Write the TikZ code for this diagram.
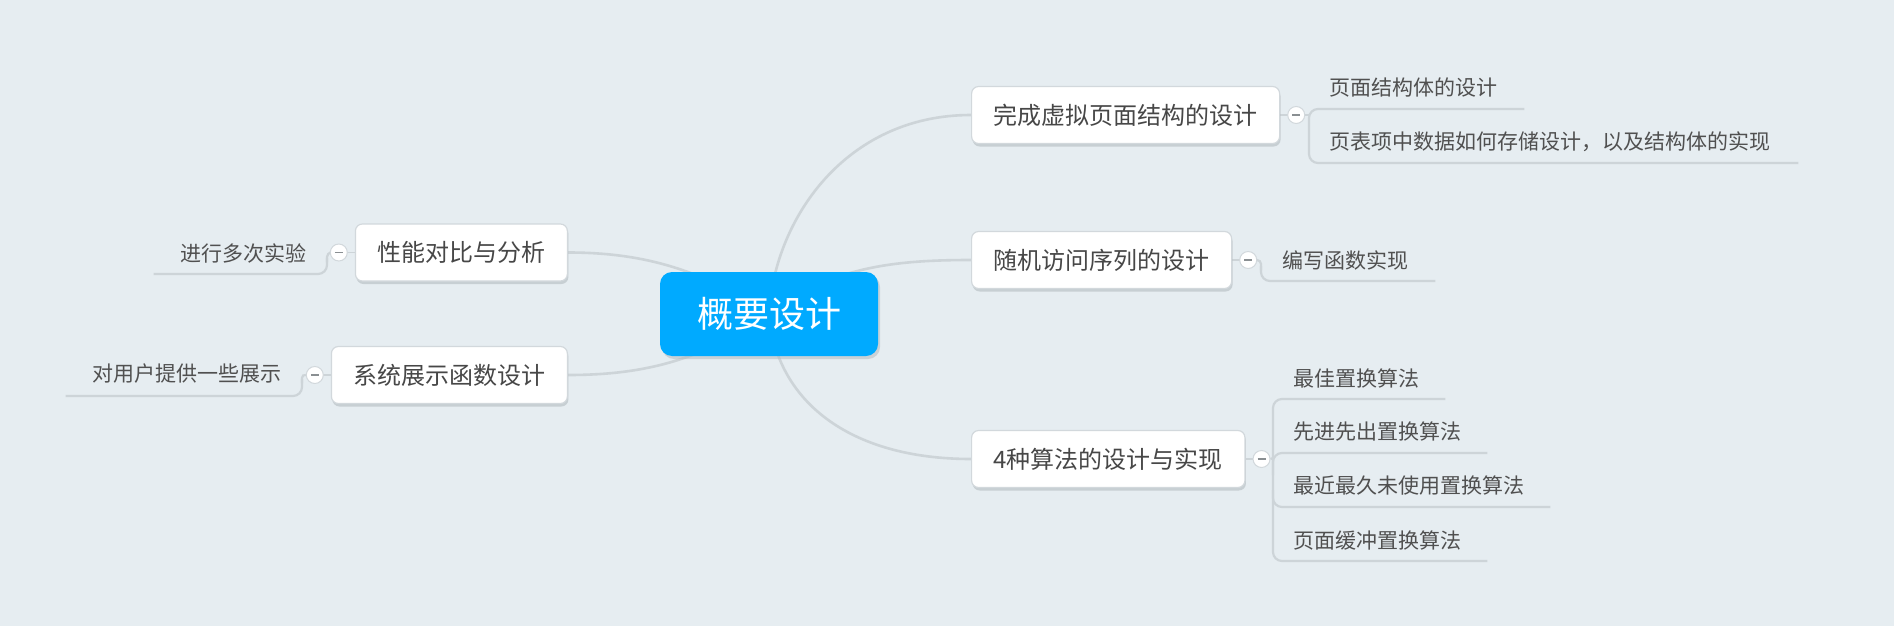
\documentclass[tikz,border=0pt]{standalone}
\usepackage{fontspec}
\setmainfont{Noto Sans CJK SC}
\usetikzlibrary{shadows,calc}
\definecolor{bgcol}{HTML}{E6EDF1}
\definecolor{rootblue}{HTML}{00AAFF}
\definecolor{linegray}{HTML}{CDD4D8}
\definecolor{boxborder}{HTML}{D2D8DC}
\definecolor{txt}{HTML}{474747}
\definecolor{leaftxt}{HTML}{505050}
\definecolor{shadowgray}{HTML}{B3BBC0}
\definecolor{minusgray}{HTML}{8A8F92}
\pgfdeclarelayer{bglayer}
\pgfdeclarelayer{background}
\pgfsetlayers{bglayer,background,main}
\begin{document}
\begin{tikzpicture}[x=1pt,y=-1pt,
 rootbox/.style={fill=rootblue, rounded corners=12pt, text=white,
   font=\fontsize{36}{40}\selectfont, minimum width=218pt, minimum height=84pt, inner sep=0pt,
   general shadow={fill=shadowgray, opacity=0.55, shadow xshift=2pt, shadow yshift=-3pt}},
 mainbox/.style={fill=white, draw=boxborder, line width=1.2pt, rounded corners=7pt, text=txt,
   font=\fontsize{24}{28}\selectfont, minimum height=57pt, inner xsep=22pt,
   general shadow={fill=shadowgray, opacity=0.6, shadow xshift=1pt, shadow yshift=-3pt}},
 leaf/.style={inner sep=0pt, text=leaftxt, font=\fontsize{21}{24}\selectfont},
 toggle/.style={circle, fill=white, draw=boxborder, line width=1pt, minimum size=17pt, inner sep=0pt,
   path picture={\draw[line width=1.8pt, minusgray] ([xshift=-4pt]path picture bounding box.center) -- ([xshift=4pt]path picture bounding box.center);}},
 trunk/.style={draw=linegray, line width=2.6pt},
 twig/.style={draw=linegray, line width=2.2pt, rounded corners=9pt},
 stub/.style={draw=linegray, line width=2.2pt, rounded corners=4pt},
]
\begin{pgfonlayer}{bglayer}
\fill[bgcol] (0,0) rectangle (1894,626);
\end{pgfonlayer}
\useasboundingbox (0,0) rectangle (1894,626);

% main nodes
\node[rootbox] (root) at (769,314) {概要设计};
\node[mainbox, anchor=west] (n1) at (971,115) {完成虚拟页面结构的设计};
\node[mainbox, anchor=west] (n2) at (971,260) {随机访问序列的设计};
\node[mainbox, anchor=west] (n3) at (971,459) {4种算法的设计与实现};
\node[mainbox, anchor=east] (n4) at (568,252.5) {性能对比与分析};
\node[mainbox, anchor=east] (n5) at (568,375) {系统展示函数设计};

% leaves
\node[leaf, anchor=west] (l1a) at (1329,88) {页面结构体的设计};
\node[leaf, anchor=west] (l1b) at (1329,142) {页表项中数据如何存储设计，以及结构体的实现};
\node[leaf, anchor=west] (l2) at (1282,260) {编写函数实现};
\node[leaf, anchor=west] (l3a) at (1293,378) {最佳置换算法};
\node[leaf, anchor=west] (l3b) at (1293,432) {先进先出置换算法};
\node[leaf, anchor=west] (l3c) at (1293,486) {最近最久未使用置换算法};
\node[leaf, anchor=west] (l3d) at (1293,540) {页面缓冲置换算法};
\node[leaf, anchor=east] (l4) at (307,253) {进行多次实验};
\node[leaf, anchor=east] (l5) at (282,374) {对用户提供一些展示};

% connectors
\begin{pgfonlayer}{background}
\draw[trunk] (root.center) .. controls (774,220) and (845,115) .. (n1.west);
\draw[trunk] (root.center) .. controls (830,268) and (890,260) .. (n2.west);
\draw[trunk] (root.center) .. controls (776,400) and (848,459) .. (n3.west);
\draw[trunk] (root.center) .. controls (700,268) and (640,252.5) .. (n4.east);
\draw[trunk] (root.center) .. controls (700,362) and (640,375) .. (n5.east);

\draw[trunk, line width=1.2pt] (n1.east) -- ++(10,0);
\draw[trunk, line width=1.2pt] (n2.east) -- ++(10,0);
\draw[trunk, line width=1.2pt] (n3.east) -- ++(10,0);
\draw[trunk, line width=1.2pt] (n4.west) -- ++(-10,0);
\draw[trunk, line width=1.2pt] (n5.west) -- ++(-10,0);

% group 1
\coordinate (b1) at (1309,115);
\draw[twig] ($(l1a.east)+(27,21)$) -| (1309,136) |- ($(l1b.east)+(28,21)$);
% group 2
\coordinate (b2) at (1261,260);
% group 3
\coordinate (b3) at (1273,458);
\draw[twig] ($(l3a.east)+(26,21)$) -| (1273,480) |- ($(l3d.east)+(26,21)$);
\draw[twig] (1273,475) |- ($(l3b.east)+(26,21)$);
\draw[twig] (1273,490) |- ($(l3c.east)+(26,21)$);
% left
\coordinate (b4) at (327,253);
\coordinate (b5) at (302,374);
\end{pgfonlayer}

% toggles
\node[toggle] (t1) at ([xshift=16pt]n1.east) {};
\node[toggle] (t2) at ([xshift=16pt]n2.east) {};
\node[toggle] (t3) at ([xshift=16pt]n3.east) {};
\node[toggle] (t4) at ([xshift=-16pt]n4.west) {};
\node[toggle] (t5) at ([xshift=-16pt]n5.west) {};

\begin{pgfonlayer}{background}
\draw[stub] (t1.east) -- (b1);
\draw[stub] (t3.east) -- (b3);
\draw[stub] (t2.east) -- (b2) -- (1261,270);
\draw[twig] (1261,266) |- ($(l2.east)+(27,21)$);
\draw[stub] (t4.west) -- (b4) -- (327,262);
\draw[twig] (327,258) |- ($(l4.west)+(-27,21)$);
\draw[stub] (t5.west) -- (b5) -- (302,383);
\draw[twig] (302,379) |- ($(l5.west)+(-27,22)$);
\end{pgfonlayer}
\end{tikzpicture}
\end{document}
